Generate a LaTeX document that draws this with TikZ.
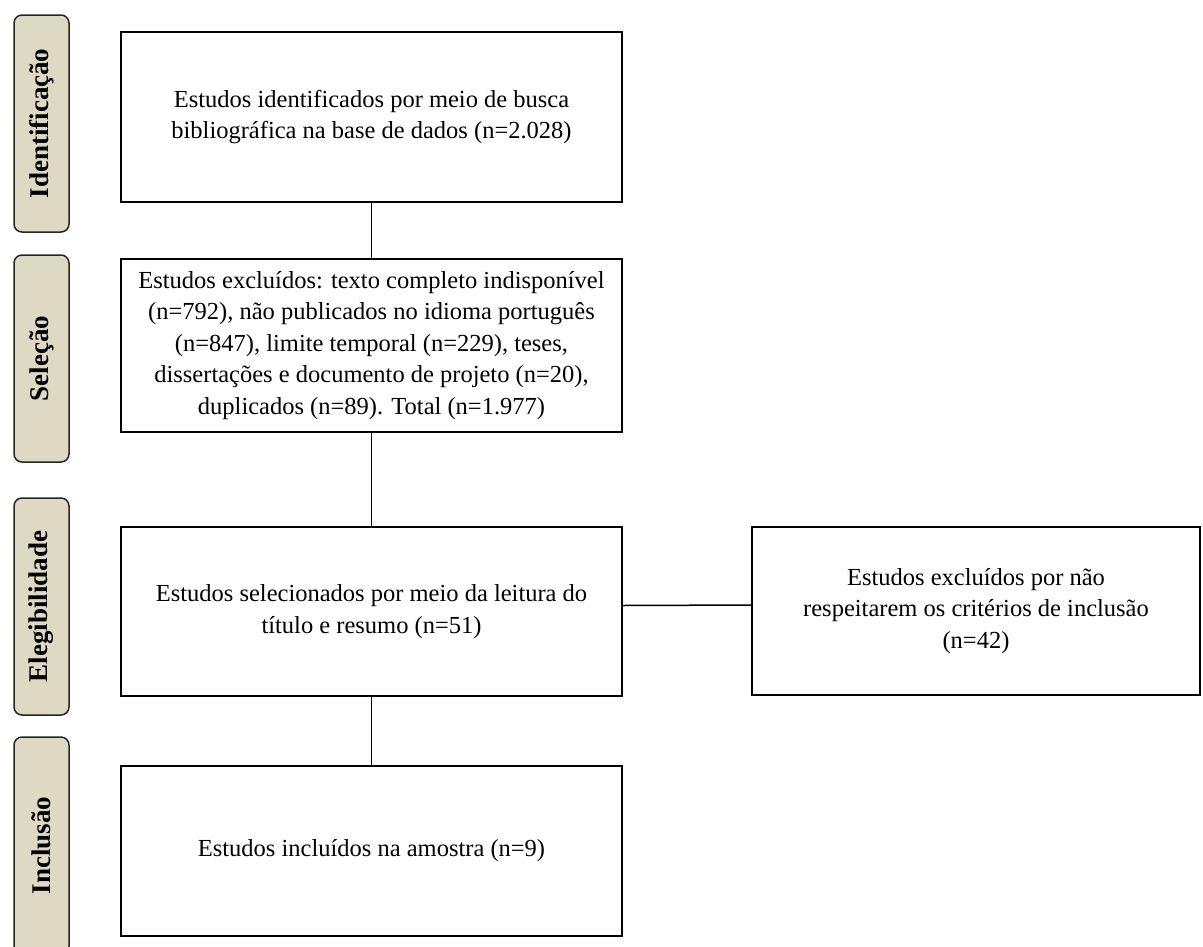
\documentclass[tikz,border=0pt]{standalone}
\usepackage{fontspec}
\setmainfont{Liberation Serif}
\definecolor{tanbg}{HTML}{DDD9C3}
\begin{document}
\begin{tikzpicture}[x=1pt,y=-1pt,
  mainbox/.style={draw=black, line width=1.5pt, minimum width=501pt, align=center,
    font=\fontsize{24.5}{31.5}\selectfont, inner sep=0pt},
  sidebox/.style={draw=black!85, fill=tanbg, line width=1.5pt, rounded corners=8pt,
    minimum width=55pt, inner sep=0pt},
  sidelabel/.style={rotate=90, font=\fontsize{27}{30}\selectfont\bfseries},
  conn/.style={draw=black, line width=1.5pt}]
\useasboundingbox (0,0) rectangle (1203,946);
\clip (0,0) rectangle (1203,946);

% side labels
\node[sidebox, minimum height=217pt] (l1) at (41.5,123.5) {};
\node[sidelabel] (t1) at (l1.center) {Identificação};
\node[sidebox, minimum height=207pt] (l2) at (41.5,358.5) {};
\node[sidelabel] (t2) at (l2.center) {Seleção};
\node[sidebox, minimum height=217pt] (l3) at (41.5,606.5) {};
\node[sidelabel] (t3) at (l3.center) {Elegibilidade};
\node[sidebox, minimum height=217pt] (l4) at (41.5,845.5) {};
\node[sidelabel] (t4) at (l4.center) {Inclusão};

% main boxes
\node[mainbox, minimum height=170pt] (b1) at (371.5,117) {Estudos identificados por meio de busca\\bibliográfica na base de dados (n=2.028)};
\node[mainbox, minimum height=173pt] (b2) at (371.5,345.5) {Estudos excluídos: texto completo indisponível\\(n=792), não publicados no idioma português\\(n=847), limite temporal (n=229), teses,\\dissertações e documento de projeto (n=20),\\duplicados (n=89). Total (n=1.977)};
\node[mainbox, minimum height=169pt] (b3) at (371.5,611.5) {Estudos selecionados por meio da leitura do\\título e resumo (n=51)};
\node[mainbox, minimum width=448pt, minimum height=168pt] (b4) at (976,611) {Estudos excluídos por não\\respeitarem os critérios de inclusão\\(n=42)};
\node[mainbox, minimum height=170pt] (b5) at (371.5,851) {Estudos incluídos na amostra (n=9)};

% connectors
\draw[conn] (b1.south) -- (b2.north);
\draw[conn] (b2.south) -- (b3.north);
\draw[conn] (b3.south) -- (b5.north);
\draw[conn] ([yshift=6pt]b3.east) -- ([yshift=6pt]b4.west);
\end{tikzpicture}
\end{document}
